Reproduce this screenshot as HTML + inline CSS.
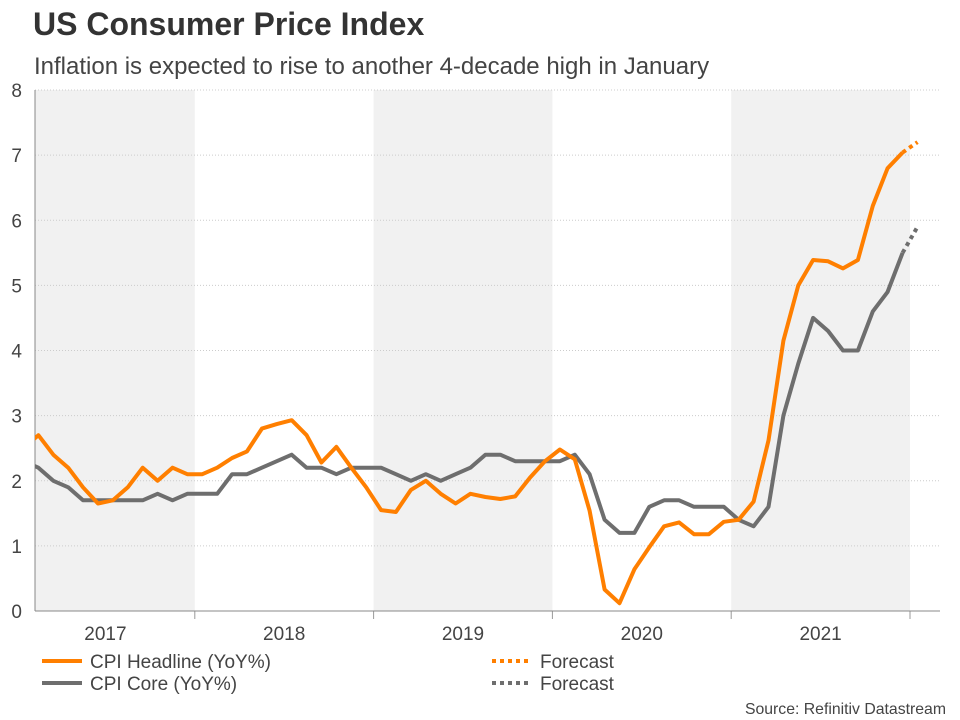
<!DOCTYPE html>
<html><head><meta charset="utf-8"><style>
body{margin:0;background:#fff;font-family:"Liberation Sans",sans-serif;}
#wrap{position:relative;width:960px;height:720px;overflow:hidden}
</style></head><body><div id="wrap">
<svg id="svg" width="960" height="720" xmlns="http://www.w3.org/2000/svg" font-family="Liberation Sans, sans-serif">
<text x="33" y="35" font-size="32" font-weight="bold" fill="#333">US Consumer Price Index</text>
<text x="34" y="74" font-size="24" fill="#444">Inflation is expected to rise to another 4-decade high in January</text>
<g id="bands"></g><g id="grid"></g><g id="axes"></g><g id="series"></g>
<g>
<line x1="42" y1="661" x2="82" y2="661" stroke="#ff7f00" stroke-width="4"/>
<text x="90" y="668" font-size="19" fill="#444">CPI Headline (YoY%)</text>
<line x1="492" y1="661" x2="532" y2="661" stroke="#ff7f00" stroke-width="4" stroke-dasharray="4,4"/>
<text x="540" y="668" font-size="19" fill="#444">Forecast</text>
<line x1="42" y1="683" x2="82" y2="683" stroke="#6e6e6e" stroke-width="4"/>
<text x="90" y="690" font-size="19" fill="#444">CPI Core (YoY%)</text>
<line x1="492" y1="683" x2="532" y2="683" stroke="#6e6e6e" stroke-width="4" stroke-dasharray="4,4"/>
<text x="540" y="690" font-size="19" fill="#444">Forecast</text>
</g>
<text x="946" y="714" font-size="15.8" fill="#444" text-anchor="end">Source: Refinitiv Datastream</text>
</svg></div>
<script>
const years=["2017","2018","2019","2020","2021"];
const yTicks=[0,1,2,3,4,5,6,7,8];
const headline=[2.5,2.7,2.4,2.2,1.9,1.65,1.7,1.9,2.2,2.0,2.2,2.1, 2.1,2.2,2.35,2.45,2.8,2.87,2.93,2.7,2.28,2.52,2.2,1.9, 1.55,1.52,1.86,2.0,1.8,1.65,1.8,1.75,1.72,1.76,2.05,2.3, 2.48,2.33,1.54,0.33,0.12,0.64,0.98,1.3,1.36,1.18,1.18,1.37, 1.4,1.68,2.62,4.15,5.0,5.39,5.37,5.26,5.39,6.22,6.8,7.04];
const headlineForecast=[7.04,7.2];
const core=[2.3,2.2,2.0,1.9,1.7,1.7,1.7,1.7,1.7,1.8,1.7,1.8, 1.8,1.8,2.1,2.1,2.2,2.3,2.4,2.2,2.2,2.1,2.2,2.2, 2.2,2.1,2.0,2.1,2.0,2.1,2.2,2.4,2.4,2.3,2.3,2.3, 2.3,2.4,2.1,1.4,1.2,1.2,1.6,1.7,1.7,1.6,1.6,1.6, 1.4,1.3,1.6,3.0,3.8,4.5,4.3,4.0,4.0,4.6,4.9,5.5];
const coreForecast=[5.5,5.9];
const NS="http://www.w3.org/2000/svg";
const L=35,R=940,T=90,B=611,X0=16,MW=14.9;
const xm=i=>X0+MW*(i+0.5);
const xb=i=>X0+MW*i;
const y=v=>B-(v/8)*(B-T);
function mk(tag,attrs,parent){const e=document.createElementNS(NS,tag);for(const k in attrs)e.setAttribute(k,attrs[k]);document.getElementById(parent).appendChild(e);return e;}
years.forEach((yr,k)=>{
  const x1=Math.max(L,xb(12*k)),x2=Math.min(R,xb(12*k+12));
  if(k%2===0){const r=mk('rect',{x:x1,y:T,width:x2-x1,height:B-T,fill:'#f1f1f1'},'bands');
  
  }
  const t=mk('text',{x:(xb(12*k)+xb(12*k+12))/2,y:640,'font-size':19,fill:'#444','text-anchor':'middle'},'axes');t.textContent=yr;
  
  
  const tk=mk('line',{x1:xb(12*k+12),x2:xb(12*k+12),y1:B,y2:B+8,stroke:'#999'},'axes');
  
  
});
yTicks.forEach(v=>{
  if(v>0){const g=mk('line',{x1:L,x2:R,y1:y(v),y2:y(v),stroke:'#ccc','stroke-dasharray':'1,2'},'grid');
  
  }
  const t=mk('text',{x:22,y:y(v)+7,'font-size':19,fill:'#444','text-anchor':'end'},'axes');t.textContent=v;
  
  
});
const ax=mk('line',{x1:L,x2:R,y1:B,y2:B,stroke:'#888'},'axes');


const ay=mk('line',{x1:L,x2:L,y1:T,y2:B,stroke:'#888'},'axes');


const clip=mk('clipPath',{id:'clp'},'series');mk('rect',{x:L,y:0,width:R-L,height:720},'series');
clip.appendChild(document.getElementById('series').lastChild);
function line(arr,start,color,dash,name){
  const d=arr.map((v,i)=>(i?'L':'M')+xm(start+i).toFixed(1)+','+y(v).toFixed(1)).join(' ');
  const p=mk('path',{d:d,fill:'none',stroke:color,'stroke-width':4,'stroke-linejoin':'round','clip-path':'url(#clp)'},'series');
  if(dash)p.setAttribute('stroke-dasharray',dash);
  
  
}
line(core,0,'#6e6e6e',null,'core-line');
line(coreForecast,59,'#6e6e6e','4,4','core-forecast-line');
line(headline,0,'#ff7f00',null,'headline-line');
line(headlineForecast,59,'#ff7f00','4,4','headline-forecast-line');
</script></body></html>
